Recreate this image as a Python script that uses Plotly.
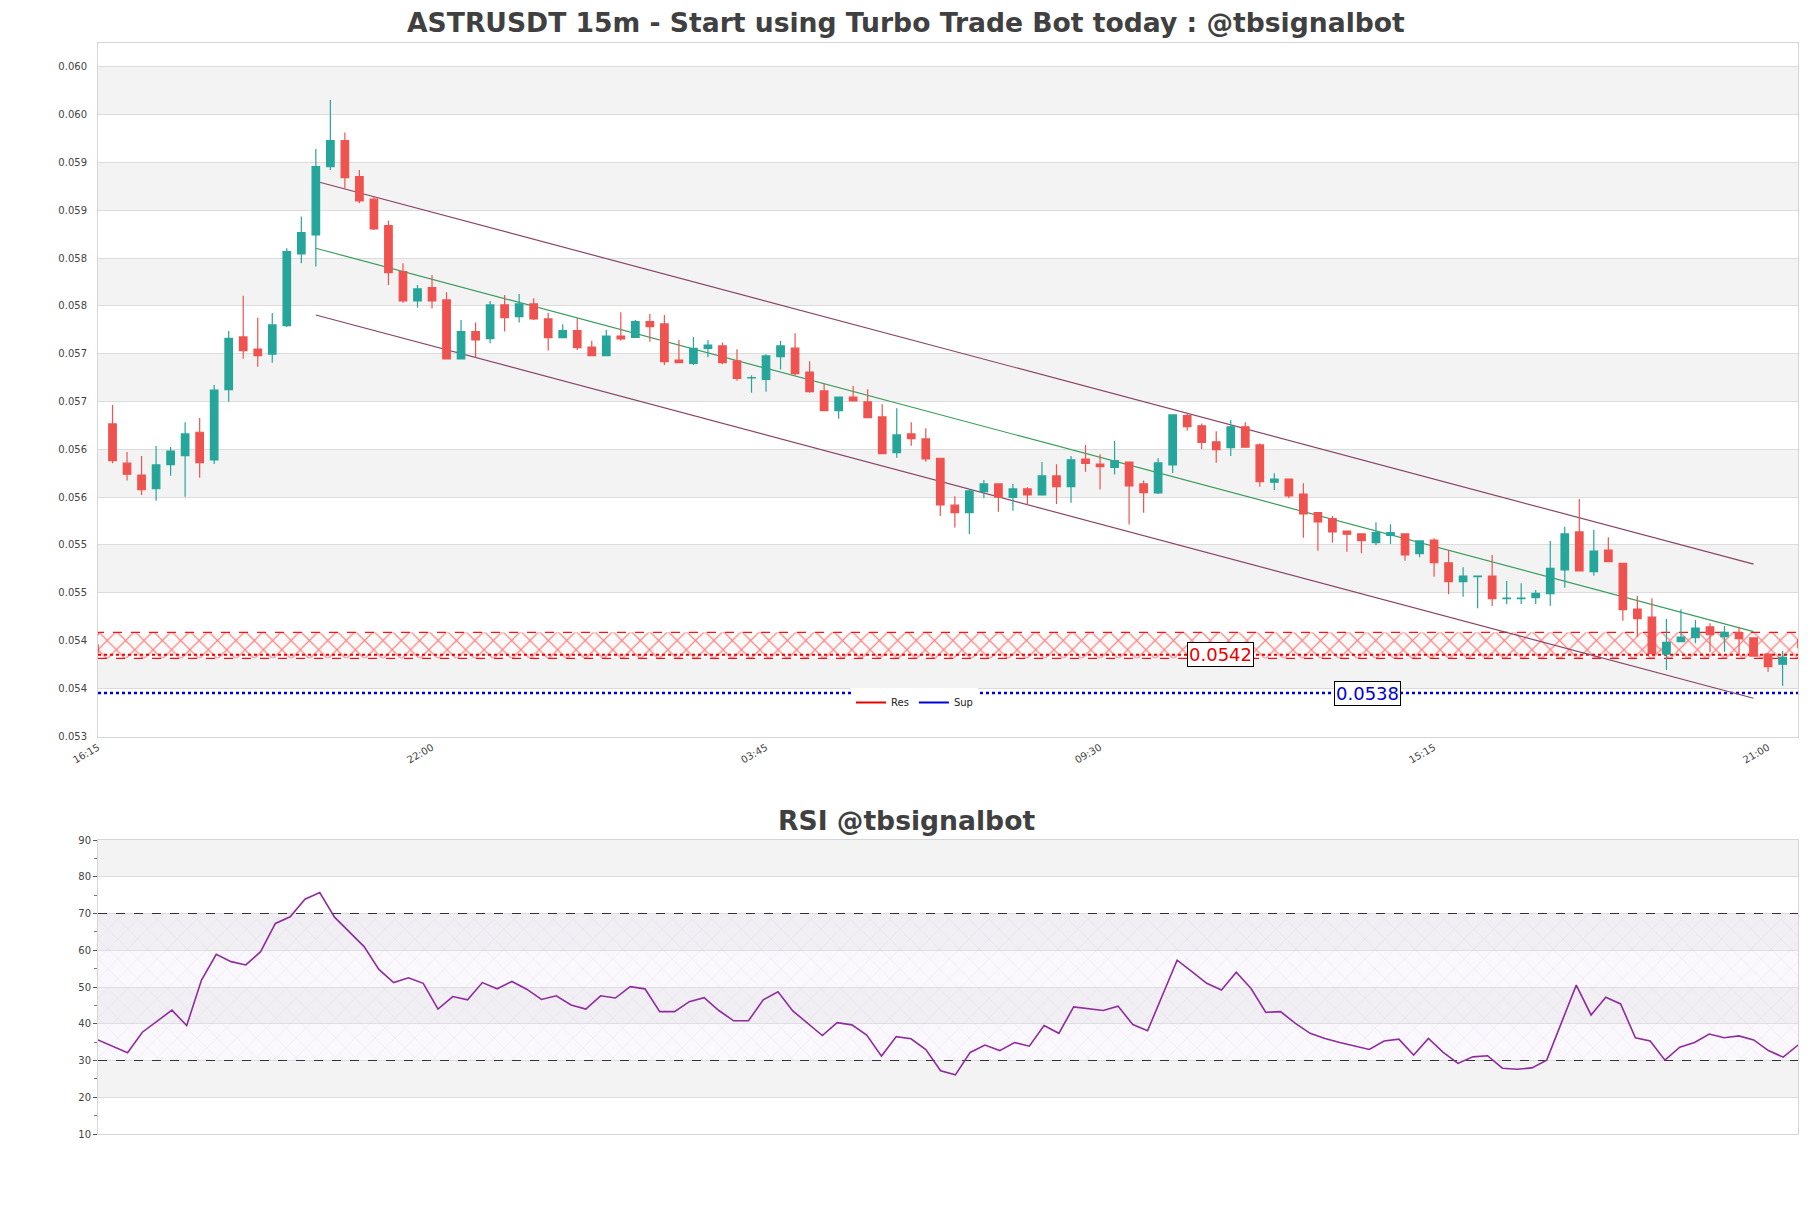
import plotly.graph_objects as go

# ASTRUSDT 15m candles (first candle is the bar after the 16:15 tick)
opens = [0.056615, 0.056204, 0.056081, 0.055938, 0.056189, 0.056283, 0.056528, 0.056238, 0.056974, 0.057525,
         0.057399, 0.057344, 0.057643, 0.058393, 0.058592, 0.059307, 0.059579, 0.059202, 0.058966, 0.058690,
         0.058208, 0.057902, 0.058041, 0.057912, 0.057295, 0.057581, 0.057507, 0.057860, 0.057737, 0.057870,
         0.057713, 0.057518, 0.057591, 0.057420, 0.057329, 0.057535, 0.057520, 0.057685, 0.057661, 0.057284,
         0.057248, 0.057405, 0.057431, 0.057274, 0.057097, 0.057080, 0.057319, 0.057408, 0.057157, 0.056960,
         0.056754, 0.056897, 0.056845, 0.056688, 0.056314, 0.056510, 0.056458, 0.056256, 0.055765, 0.055687,
         0.055906, 0.055987, 0.055846, 0.055935, 0.055872, 0.056071, 0.055959, 0.056248, 0.056196, 0.056160,
         0.056217, 0.055987, 0.055893, 0.056186, 0.056701, 0.056596, 0.056428, 0.056367, 0.056585, 0.056395,
         0.056005, 0.056039, 0.055882, 0.055687, 0.055624, 0.055495, 0.055464, 0.055373, 0.055450, 0.055464,
         0.055258, 0.055401, 0.055163, 0.054965, 0.055017, 0.055024, 0.054788, 0.054788, 0.054797, 0.054839,
         0.055087, 0.055485, 0.055069, 0.055296, 0.055157, 0.054679, 0.054595, 0.054208, 0.054337, 0.054379,
         0.054491, 0.054389, 0.054431, 0.054376, 0.054208, 0.054101]
highs = [0.056814, 0.056322, 0.056280, 0.056385, 0.056374, 0.056632, 0.056678, 0.057023, 0.057588, 0.057957,
         0.057727, 0.057776, 0.058453, 0.058784, 0.059492, 0.060005, 0.059663, 0.059272, 0.058993, 0.058742,
         0.058296, 0.058069, 0.058174, 0.057993, 0.057703, 0.057675, 0.057902, 0.057964, 0.057975, 0.057930,
         0.057779, 0.057658, 0.057721, 0.057486, 0.057598, 0.057783, 0.057703, 0.057766, 0.057755, 0.057494,
         0.057525, 0.057494, 0.057467, 0.057397, 0.057124, 0.057345, 0.057483, 0.057564, 0.057271, 0.057033,
         0.056897, 0.057012, 0.056978, 0.056821, 0.056779, 0.056632, 0.056570, 0.056256, 0.055858, 0.055931,
         0.056029, 0.055987, 0.055987, 0.055952, 0.056217, 0.056193, 0.056280, 0.056395, 0.056299, 0.056437,
         0.056217, 0.056022, 0.056256, 0.056709, 0.056719, 0.056619, 0.056538, 0.056657, 0.056632, 0.056413,
         0.056099, 0.056039, 0.055994, 0.055687, 0.055652, 0.055495, 0.055464, 0.055586, 0.055565, 0.055464,
         0.055391, 0.055419, 0.055296, 0.055115, 0.055024, 0.055244, 0.054972, 0.054948, 0.054878, 0.055391,
         0.055540, 0.055830, 0.055506, 0.055429, 0.055157, 0.054815, 0.054791, 0.054574, 0.054676, 0.054564,
         0.054529, 0.054501, 0.054494, 0.054376, 0.054208, 0.054240]
lows = [0.056204, 0.056022, 0.055872, 0.055812, 0.056074, 0.055854, 0.056053, 0.056196, 0.056848, 0.057298,
        0.057214, 0.057256, 0.057630, 0.058296, 0.058261, 0.059272, 0.059081, 0.058924, 0.058645, 0.058069,
        0.057884, 0.057834, 0.057823, 0.057290, 0.057295, 0.057310, 0.057459, 0.057581, 0.057675, 0.057703,
        0.057382, 0.057518, 0.057389, 0.057329, 0.057329, 0.057486, 0.057520, 0.057476, 0.057232, 0.057250,
        0.057232, 0.057313, 0.057240, 0.057068, 0.056942, 0.056953, 0.057185, 0.057122, 0.056942, 0.056754,
        0.056670, 0.056855, 0.056681, 0.056298, 0.056262, 0.056388, 0.056220, 0.055652, 0.055532, 0.055464,
        0.055837, 0.055697, 0.055707, 0.055767, 0.055865, 0.055778, 0.055791, 0.056116, 0.055929, 0.056086,
        0.055563, 0.055687, 0.055882, 0.056102, 0.056544, 0.056353, 0.056210, 0.056280, 0.056371, 0.055959,
        0.055924, 0.055837, 0.055425, 0.055289, 0.055373, 0.055279, 0.055262, 0.055345, 0.055359, 0.055184,
        0.055220, 0.055017, 0.054833, 0.054808, 0.054686, 0.054710, 0.054729, 0.054731, 0.054731, 0.054714,
        0.054902, 0.055077, 0.055028, 0.055174, 0.054557, 0.054389, 0.054211, 0.054041, 0.054337, 0.054320,
        0.054226, 0.054232, 0.054198, 0.054187, 0.054023, 0.053877]
closes = [0.056231, 0.056089, 0.055927, 0.056186, 0.056332, 0.056510, 0.056210, 0.056970, 0.057511, 0.057382,
          0.057329, 0.057651, 0.058417, 0.058616, 0.059307, 0.059579, 0.059192, 0.058948, 0.058655, 0.058198,
          0.057902, 0.058027, 0.057902, 0.057295, 0.057581, 0.057494, 0.057860, 0.057727, 0.057870, 0.057713,
          0.057518, 0.057591, 0.057413, 0.057329, 0.057535, 0.057504, 0.057685, 0.057633, 0.057267, 0.057256,
          0.057405, 0.057439, 0.057256, 0.057091, 0.057101, 0.057326, 0.057431, 0.057140, 0.056953, 0.056754,
          0.056897, 0.056855, 0.056681, 0.056304, 0.056500, 0.056461, 0.056248, 0.055767, 0.055687, 0.055914,
          0.055987, 0.055848, 0.055935, 0.055872, 0.056071, 0.055959, 0.056238, 0.056201, 0.056168, 0.056231,
          0.055966, 0.055896, 0.056207, 0.056709, 0.056586, 0.056421, 0.056347, 0.056585, 0.056371, 0.056011,
          0.056039, 0.055861, 0.055673, 0.055589, 0.055485, 0.055461, 0.055394, 0.055477, 0.055477, 0.055244,
          0.055391, 0.055163, 0.054965, 0.055024, 0.055024, 0.054787, 0.054794, 0.054794, 0.054843, 0.055105,
          0.055464, 0.055077, 0.055286, 0.055174, 0.054672, 0.054578, 0.054211, 0.054331, 0.054386, 0.054480,
          0.054410, 0.054435, 0.054368, 0.054187, 0.054075, 0.054174]

rsi_values = [35.6, 33.9, 32.1, 37.7, 40.6, 43.7, 39.5, 51.9, 58.9, 56.9,
              56.0, 59.6, 67.3, 69.1, 73.9, 75.7, 69.0, 65.1, 61.0, 54.8,
              51.2, 52.5, 51.0, 44.0, 47.4, 46.5, 51.2, 49.5, 51.5, 49.4,
              46.6, 47.6, 45.1, 44.0, 47.6, 47.0, 50.1, 49.5, 43.3, 43.3,
              46.0, 47.1, 43.6, 40.8, 40.8, 46.5, 48.7, 43.5, 40.1, 36.8,
              40.3, 39.7, 36.9, 31.2, 36.5, 35.9, 33.0, 27.2, 26.1, 32.2,
              34.2, 32.7, 34.9, 33.9, 39.5, 37.4, 44.6, 44.2, 43.6, 44.8,
              39.8, 38.1, 47.7, 57.3, 54.2, 51.0, 49.2, 54.0, 49.6, 43.1,
              43.3, 40.1, 37.4, 36.0, 34.9, 34.0, 33.0, 35.3, 35.8, 31.5,
              36.0, 32.2, 29.2, 31.0, 31.3, 27.9, 27.6, 28.0, 30.1, 40.3,
              50.5, 42.4, 47.2, 45.4, 36.2, 35.3, 30.1, 33.6, 34.9, 37.2,
              36.2, 36.7, 35.6, 32.7, 30.9, 34.2]

price_ticks = [0.05335, 0.05385, 0.05435, 0.05485, 0.05535, 0.05585, 0.05635, 0.05685,
               0.05735, 0.05785, 0.05835, 0.05885, 0.05935, 0.05985, 0.06035]
price_tick_text = ['0.053', '0.054', '0.054', '0.055', '0.055', '0.056', '0.056', '0.057',
                   '0.057', '0.058', '0.058', '0.059', '0.059', '0.060', '0.060']
time_ticks = [0, 23, 46, 69, 92, 115]
time_tick_text = ['16:15', '22:00', '03:45', '09:30', '15:15', '21:00']
rsi_ticks = [10, 20, 30, 40, 50, 60, 70, 80, 90]

# regression channel (start / end bar)
channel_x = [15, 114]
channel_upper = [0.059154, 0.055148]
channel_mid = [0.058453, 0.054442]
channel_lower = [0.057755, 0.053745]

res_zone = [0.054163, 0.054435]
res_level = 0.0542
sup_level = 0.0538
res_label_x = 77.3
sup_label_x = 87.4
rsi_low, rsi_high = 30, 70

n = len(opens)
bars = list(range(1, n + 1))
x_max = n + 1.06
y_range = [0.05334, 0.06060]

FONT = "DejaVu Sans"
GREEN = "#26a69a"
RED = "#ef5350"
GRID = "#dcdcdc"
BAND = "#f3f3f3"
RES_C = "#e80000"
SUP_C = "#0000dd"

fig = go.Figure()

# ---- main price chart: zone and lines on base axes ----
fig.add_trace(go.Scatter(
    x=[0, x_max, x_max, 0, 0],
    y=[res_zone[0], res_zone[0], res_zone[1], res_zone[1], res_zone[0]],
    mode="lines", fill="toself",
    fillpattern=dict(shape="x", fgcolor="#ff1010", bgcolor="rgba(255,250,250,0.75)",
                     size=13, solidity=0.18),
    line=dict(color="#ff1010", width=1.2, dash="dash"),
    showlegend=False, hoverinfo="skip", xaxis="x", yaxis="y"))

fig.add_trace(go.Scatter(
    x=[0, x_max], y=[res_level, res_level], mode="lines",
    line=dict(color=RES_C, width=2, dash="dot"),
    showlegend=False, xaxis="x", yaxis="y"))
fig.add_trace(go.Scatter(
    x=[0, x_max], y=[sup_level, sup_level], mode="lines",
    line=dict(color=SUP_C, width=2.5, dash="dot"),
    showlegend=False, xaxis="x", yaxis="y"))
# legend entries
fig.add_trace(go.Scatter(x=[None], y=[None], mode="lines", name="Res",
                         line=dict(color=RES_C, width=2), xaxis="x", yaxis="y"))
fig.add_trace(go.Scatter(x=[None], y=[None], mode="lines", name="Sup",
                         line=dict(color=SUP_C, width=2), xaxis="x", yaxis="y"))

for ys, col in [(channel_upper, "#8a4566"), (channel_mid, "#3a9d5d"), (channel_lower, "#8a4566")]:
    fig.add_trace(go.Scatter(x=channel_x, y=ys, mode="lines",
                             line=dict(color=col, width=1.2),
                             showlegend=False, hoverinfo="skip", xaxis="x", yaxis="y"))

# candles on an overlaid axis so they sit above the zone and lines
fig.add_trace(go.Candlestick(
    x=bars, open=opens, high=highs, low=lows, close=closes,
    increasing=dict(line=dict(color=GREEN, width=1.2), fillcolor=GREEN),
    decreasing=dict(line=dict(color=RED, width=1.2), fillcolor=RED),
    whiskerwidth=0, showlegend=False, xaxis="x3", yaxis="y3"))

# ---- RSI ----
fig.add_trace(go.Scatter(
    x=[0, n - 1, n - 1, 0, 0], y=[rsi_low, rsi_low, rsi_high, rsi_high, rsi_low],
    mode="lines", fill="toself", line=dict(width=0),
    fillpattern=dict(shape="x", fgcolor="rgba(170,140,200,0.45)",
                     bgcolor="rgba(235,228,245,0.25)", size=14, solidity=0.05),
    showlegend=False, hoverinfo="skip", xaxis="x2", yaxis="y2"))
for lvl in [rsi_low, rsi_high]:
    fig.add_trace(go.Scatter(x=[0, n - 1], y=[lvl, lvl], mode="lines",
                             line=dict(color="#333333", width=1.2, dash="dash"),
                             showlegend=False, hoverinfo="skip", xaxis="x2", yaxis="y2"))
fig.add_trace(go.Scatter(x=list(range(n)), y=rsi_values, mode="lines",
                         line=dict(color="#8e2c9e", width=1.6),
                         showlegend=False, xaxis="x2", yaxis="y2"))

# alternating background bands
shapes = []
for i in range(1, len(price_ticks) - 1, 2):
    shapes.append(dict(type="rect", xref="x domain", yref="y", x0=0, x1=1,
                       y0=price_ticks[i], y1=price_ticks[i + 1],
                       fillcolor=BAND, line=dict(width=0), layer="below"))
for i in range(1, len(rsi_ticks) - 1, 2):
    shapes.append(dict(type="rect", xref="x2 domain", yref="y2", x0=0, x1=1,
                       y0=rsi_ticks[i], y1=rsi_ticks[i + 1],
                       fillcolor=BAND, line=dict(width=0), layer="below"))

# the page puts the figure 8px in from the top-left corner
OFF = 8
W, H = 1811 - OFF, 1208 - OFF
PL, PR = 98, 1798          # plot area left/right on the page
PW = PR - PL


def py(y_page):
    return 1 - (y_page - OFF) / H


axis_common = dict(showline=True, linecolor="#d6d6d6", linewidth=1, mirror=True,
                   zeroline=False, automargin=False,
                   tickfont=dict(family=FONT, size=10, color="#444"))

fig.update_layout(
    width=W, height=H,
    margin=dict(l=PL - OFF, r=W - (PR - OFF), t=0, b=0, autoexpand=False),
    paper_bgcolor="white", plot_bgcolor="white",
    font=dict(family=FONT),
    boxgap=0.26,
    shapes=shapes,
    xaxis=dict(domain=[0, 1], range=[0, x_max], anchor="y",
               tickvals=time_ticks, ticktext=time_tick_text, tickangle=-30,
               showgrid=False, rangeslider=dict(visible=False), **axis_common),
    yaxis=dict(domain=[py(737), py(43)], range=y_range, anchor="x",
               tickvals=price_ticks, ticktext=price_tick_text,
               showgrid=True, gridcolor=GRID, gridwidth=1, ticklabelstandoff=8,
               **axis_common),
    xaxis3=dict(overlaying="x", range=[0, x_max], visible=False,
                rangeslider=dict(visible=False)),
    yaxis3=dict(overlaying="y", range=y_range, visible=False),
    xaxis2=dict(domain=[0, 1], range=[0, n - 1], anchor="y2",
                showticklabels=False, showgrid=False, **axis_common),
    yaxis2=dict(domain=[py(1134), py(840)], range=[10, 90], anchor="x2",
                tickvals=rsi_ticks, showgrid=True, gridcolor=GRID, gridwidth=1,
                ticks="outside", ticklen=4, tickcolor="#555",
                minor=dict(dtick=5, ticks="outside", ticklen=3, tickcolor="#777", showgrid=False),
                **axis_common),
    legend=dict(orientation="h", x=(851 - PL) / PW, y=py(688),
                xanchor="left", yanchor="top", bgcolor="white",
                font=dict(family=FONT, size=10, color="#222"),
                itemwidth=30, tracegroupgap=0),
    annotations=[
        dict(text="<b>ASTRUSDT 15m - Start using Turbo Trade Bot today : @tbsignalbot</b>",
             xref="paper", yref="paper", x=(906 - PL) / PW, y=py(23),
             xanchor="center", yanchor="middle", showarrow=False,
             font=dict(family=FONT, size=26.6, color="#404040")),
        dict(text="<b>RSI @tbsignalbot</b>",
             xref="paper", yref="paper", x=(906 - PL) / PW, y=py(820),
             xanchor="center", yanchor="middle", showarrow=False,
             font=dict(family=FONT, size=26.6, color="#404040")),
        dict(text="0.0542", x=res_label_x, y=res_level, xref="x", yref="y",
             showarrow=False, bgcolor="white", bordercolor="black", borderwidth=1, borderpad=1,
             font=dict(family=FONT, size=18, color=RES_C)),
        dict(text="0.0538", x=sup_label_x, y=sup_level, xref="x", yref="y",
             showarrow=False, bgcolor="white", bordercolor="black", borderwidth=1, borderpad=1,
             font=dict(family=FONT, size=18, color=SUP_C)),
    ],
)

fig.write_html("out.html")
